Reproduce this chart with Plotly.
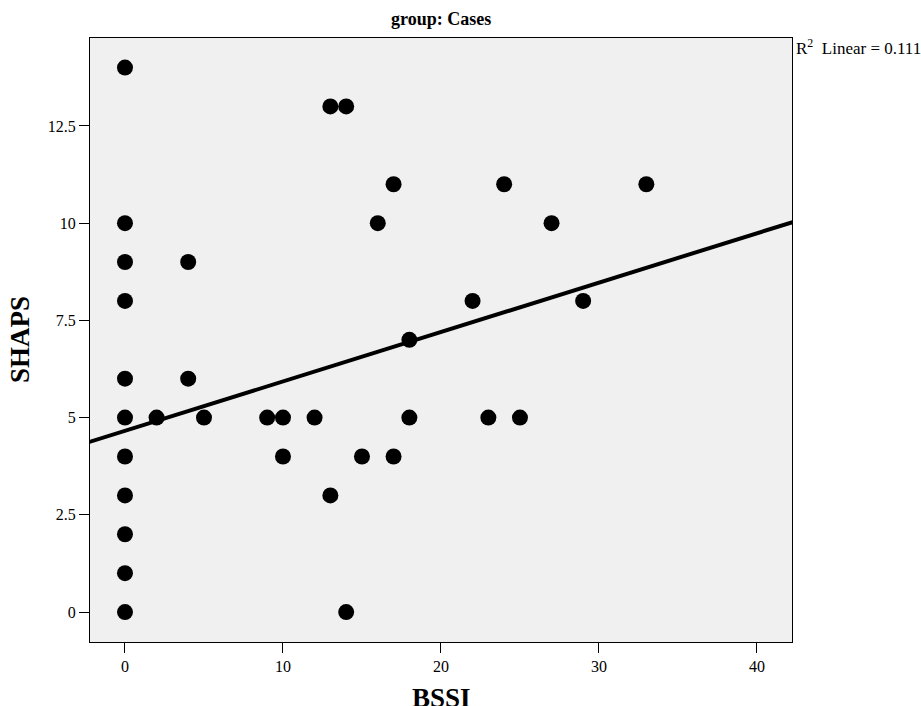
import plotly.graph_objects as go

# Data
bssi = [0, 0, 0, 0, 0, 0, 0, 0, 0, 0, 0,
        2, 4, 4, 5, 9, 10, 10, 12, 13, 14, 13, 14, 15, 16, 17, 17, 18, 18,
        22, 23, 24, 25, 27, 29, 33]
shaps = [14, 10, 9, 8, 6, 5, 4, 3, 2, 1, 0,
         5, 9, 6, 5, 5, 5, 4, 5, 13, 13, 3, 0, 4, 10, 11, 4, 7, 5,
         8, 5, 11, 5, 10, 8, 11]

# Linear fit shown in the reference (R² Linear = 0.111)
fit_intercept = 4.66
fit_slope = 0.127
r2_text = "R<sup>2</sup>  Linear = 0.111"

x_range = [-2.215, 42.22]
y_range = [-0.77, 14.76]
y_ticks = [0, 2.5, 5, 7.5, 10, 12.5]
y_ticklabels = ["0", "2.5", "5", "7.5", "10", "12.5"]
x_ticks = [0, 10, 20, 30, 40]

font_family = "Liberation Serif"

fig = go.Figure()
fig.add_trace(go.Scatter(
    x=bssi, y=shaps, mode="markers",
    marker=dict(color="black", size=16, line=dict(width=0)),
    showlegend=False, hoverinfo="x+y"))

fx = [x_range[0] - 1, x_range[1] + 1]
fy = [fit_intercept + fit_slope * v for v in fx]
fig.add_trace(go.Scatter(
    x=fx, y=fy, mode="lines",
    line=dict(color="black", width=4),
    showlegend=False, hoverinfo="skip"))

axis_common = dict(
    showline=True, linecolor="black", linewidth=1.3, mirror=True,
    ticks="outside", ticklen=10, tickwidth=1.3, tickcolor="black",
    showgrid=False, zeroline=False,
    tickfont=dict(family=font_family, size=16, color="black"),
)

fig.update_layout(
    width=921, height=706,
    margin=dict(l=90, r=129, t=38, b=64),
    paper_bgcolor="white", plot_bgcolor="#f0f0f0",
    font=dict(family=font_family, color="black"),
    xaxis=dict(range=x_range, tickvals=x_ticks, ticklabelstandoff=0, **axis_common),
    yaxis=dict(range=y_range, tickvals=y_ticks, ticktext=y_ticklabels, ticklabelstandoff=0, **axis_common),
    annotations=[
        dict(text="<b>group: Cases</b>", xref="paper", yref="paper",
             x=0.5, y=1.0, yshift=19, xanchor="center", yanchor="middle",
             showarrow=False, font=dict(family=font_family, size=18, color="black")),
        dict(text=r2_text, xref="paper", yref="paper",
             x=1.0, y=1.0, xshift=2, yshift=-9, xanchor="left", yanchor="middle",
             showarrow=False, font=dict(family=font_family, size=17, color="black")),
        dict(text="<b>BSSI</b>", xref="paper", yref="paper",
             x=0.5, y=0, yshift=-56, xanchor="center", yanchor="middle",
             showarrow=False, font=dict(family=font_family, size=27, color="black")),
        dict(text="<b>SHAPS</b>", xref="paper", yref="paper",
             x=0, y=0.5, xshift=-70, yshift=0, xanchor="center", yanchor="middle",
             textangle=-90,
             showarrow=False, font=dict(family=font_family, size=27, color="black")),
    ],
)

fig.write_html("out.html")
